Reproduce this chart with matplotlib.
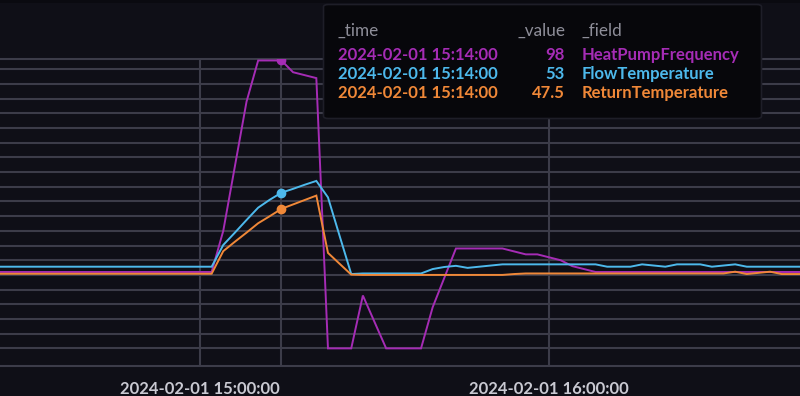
import matplotlib
matplotlib.use("Agg")
import matplotlib.pyplot as plt
import matplotlib.dates as mdates
from matplotlib.patches import FancyBboxPatch, Rectangle
import pandas as pd

# ---------------- data ----------------
times = pd.date_range("2024-02-01 14:24", "2024-02-01 16:44", freq="2min")

heat_pump_frequency = [
    26, 26, 26, 26, 26, 26, 26, 26, 26, 26, 26, 26, 26, 26, 26, 26, 26, 26, 26, 26,  # 14:24 .. 15:02
    40, 62, 84, 98, 98, 98, 94, 93, 92,                                              # 15:04 .. 15:20
    0, 0, 0, 18, 9, 0, 0, 0, 0,                                                       # 15:22 .. 15:38
    14, 24, 34, 34, 34, 34, 34,                                                       # 15:40 .. 15:52
    33, 32, 32, 31, 30, 28, 27, 26,                                                   # 15:54 .. 16:08
    26, 26, 26, 26, 26, 26, 26, 26, 26, 26, 26, 26, 26, 26, 26, 26, 26, 26,           # 16:10 .. 16:44
]

flow_temperature = [
    27.8, 27.8, 27.8, 27.8, 27.8, 27.8, 27.8, 27.8, 27.8, 27.8,
    27.8, 27.8, 27.8, 27.8, 27.8, 27.8, 27.8, 27.8, 27.8, 27.8,                      # 14:24 .. 15:02
    35.2, 39.4, 43.7, 47.9, 50.6, 53.0, 54.3, 55.7, 57.0, 51.4, 38.3, 25.3,          # 15:04 .. 15:26
    25.5, 25.5, 25.5, 25.5, 25.5, 25.5,                                              # 15:28 .. 15:38
    27.0, 27.7, 28.1, 27.4, 27.8, 28.2, 28.6,                                        # 15:40 .. 15:52
    28.6, 28.6, 28.6, 28.6, 28.6, 28.6, 28.6, 28.6,                                  # 15:54 .. 16:08
    27.8, 27.8, 27.8, 28.6, 28.2, 27.8, 28.6, 28.6, 28.6, 27.8, 28.2, 28.6, 27.8,    # 16:10 .. 16:34
    27.8, 27.8, 27.8, 27.8, 27.8,                                                    # 16:36 .. 16:44
]

return_temperature = [
    25.4, 25.4, 25.4, 25.4, 25.4, 25.4, 25.4, 25.4, 25.4, 25.4,
    25.4, 25.4, 25.4, 25.4, 25.4, 25.4, 25.4, 25.4, 25.4, 25.4,                      # 14:24 .. 15:02
    33.1, 36.3, 39.4, 42.6, 45.0, 47.5, 49.0, 50.5, 52.0, 32.5, 28.8, 25.1,          # 15:04 .. 15:26
    25.0, 25.0, 25.0, 25.0, 25.0, 25.0, 25.0, 25.0, 25.0, 25.0, 25.0, 25.0, 25.0,    # 15:28 .. 15:52
    25.3, 25.5,                                                                      # 15:54 .. 15:56
    25.5, 25.5, 25.5, 25.5, 25.5, 25.5, 25.5, 25.5, 25.5,
    25.5, 25.5, 25.5, 25.5, 25.5, 25.5, 25.5, 25.5,                                  # 15:58 .. 16:30
    26.1, 25.3, 25.7, 26.1, 25.3, 25.3, 25.3,                                        # 16:32 .. 16:44
]

series_names = ["HeatPumpFrequency", "FlowTemperature", "ReturnTemperature"]
series_values = [heat_pump_frequency, flow_temperature, return_temperature]
series_colors = ["#A52CB5", "#4DB9EC", "#F08838"]

hover_time = pd.Timestamp("2024-02-01 15:14:00")
hover_values = ["98", "53", "47.5"]
x_ticks = [pd.Timestamp("2024-02-01 15:00:00"), pd.Timestamp("2024-02-01 16:00:00")]
y_grid = list(range(0, 100, 5))

# ---------------- style ----------------
BG = "#0F0F17"
GRID = "#3C3C49"
FONT = ["Lato", "DejaVu Sans"]

W, H = 800, 396
fig = plt.figure(figsize=(W / 100, H / 100), dpi=100, facecolor=BG)

def fx(px):
    return px / W

def fy(py):
    return 1 - py / H

top_px, bot_px = 59.3, 365.7
ax = fig.add_axes([0, fy(bot_px), 1, fy(top_px) - fy(bot_px)])
ax.set_facecolor(BG)

for vals, col in zip(series_values, series_colors):
    ax.plot(times, vals, color=col, lw=1.4, solid_joinstyle="miter", zorder=3)

# hover crosshair and points
ax.axvline(hover_time, color=GRID, lw=1.5, zorder=1)
idx = list(times).index(hover_time)
for vals, col in zip(series_values, series_colors):
    ax.plot([times[idx]], [vals[idx]], "o", ms=6, color=col, zorder=4)

ax.set_xlim(pd.Timestamp("2024-02-01 14:25:37"), pd.Timestamp("2024-02-01 16:43:09"))
ax.set_ylim(-5.9, 98.4)

ax.set_yticks(y_grid)
ax.set_xticks(x_ticks)
ax.xaxis.set_major_formatter(mdates.DateFormatter("%Y-%m-%d %H:%M:%S"))
ax.grid(True, color=GRID, lw=1.5, zorder=0)
ax.tick_params(axis="y", length=0, labelleft=False)
ax.tick_params(axis="x", length=0, pad=11, labelsize=12, labelcolor="#C9C9D2")
for lab in ax.get_xticklabels():
    lab.set_fontfamily(FONT)
    lab.set_fontweight("bold")

for s in ["left", "right"]:
    ax.spines[s].set_visible(False)
for s in ["top", "bottom"]:
    ax.spines[s].set_color(GRID)
    ax.spines[s].set_linewidth(1.5)

# thin darker strip along the very top
fig.patches.append(Rectangle((0, fy(3)), 1, fy(0) - fy(3), transform=fig.transFigure,
                             facecolor="#0A0A10", edgecolor="none", zorder=0))

# ---------------- tooltip ----------------
bx0, by0, bx1, by1 = 323.5, 4.5, 761.5, 118.5
box = FancyBboxPatch((fx(bx0), fy(by1)), fx(bx1) - fx(bx0), fy(by0) - fy(by1),
                     boxstyle="round,pad=0,rounding_size=0.006",
                     transform=fig.transFigure, facecolor="#07070B",
                     edgecolor="#1E1E28", lw=1.2, zorder=10)
fig.patches.append(box)

HDR = "#8E8E99"
hsz = 12.3
rsz = 12.0
fig.text(fx(338), fy(31), "_time", color=HDR, fontsize=hsz, family=FONT, va="center", ha="left", zorder=11)
fig.text(fx(565), fy(31), "_value", color=HDR, fontsize=hsz, family=FONT, va="center", ha="right", zorder=11)
fig.text(fx(582), fy(31), "_field", color=HDR, fontsize=hsz, family=FONT, va="center", ha="left", zorder=11)

row_y = [55.3, 74.3, 93.3]
for ry, name, val, col in zip(row_y, series_names, hover_values, series_colors):
    fig.text(fx(338), fy(ry), hover_time.strftime("%Y-%m-%d %H:%M:%S"), color=col, fontsize=rsz,
             family=FONT, fontweight="bold", va="center", ha="left", zorder=11)
    fig.text(fx(565), fy(ry), val, color=col, fontsize=rsz, family=FONT, fontweight="bold",
             va="center", ha="right", zorder=11)
    fig.text(fx(582), fy(ry), name, color=col, fontsize=rsz, family=FONT, fontweight="bold",
             va="center", ha="left", zorder=11)

fig.savefig("out.png", dpi=100, facecolor=BG)
